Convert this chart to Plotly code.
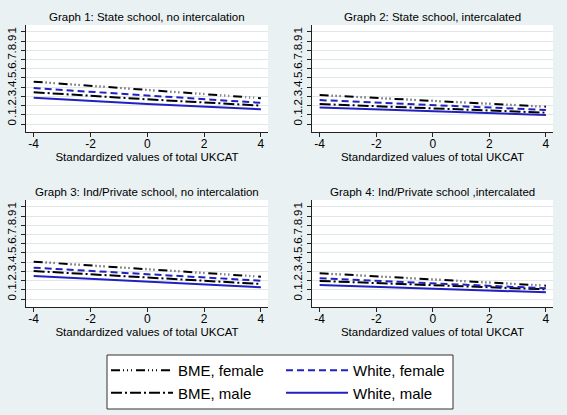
import plotly.graph_objects as go

# ---- data ----
x_vals = [-4, 0, 4]
panel_titles = [
    "Graph 1: State school, no intercalation",
    "Graph 2: State school, intercalated",
    "Graph 3: Ind/Private school, no intercalation",
    "Graph 4: Ind/Private school ,intercalated",
]
series_names = ["BME, female", "BME, male", "White, female", "White, male"]
bme_female = [[0.46, 0.37, 0.28], [0.315, 0.25, 0.188], [0.405, 0.326, 0.242], [0.28, 0.214, 0.145]]
white_female = [[0.39, 0.307, 0.23], [0.26, 0.204, 0.152], [0.34, 0.272, 0.199], [0.225, 0.171, 0.116]]
bme_male = [[0.345, 0.268, 0.20], [0.217, 0.17, 0.123], [0.304, 0.236, 0.163], [0.196, 0.152, 0.105]]
white_male = [[0.286, 0.217, 0.16], [0.18, 0.141, 0.098], [0.25, 0.188, 0.127], [0.152, 0.116, 0.073]]
x_ticks = [-4, -2, 0, 2, 4]
x_ticktext = ["-4", "-2", "0", "2", "4"]
y_ticks = [0, 0.1, 0.2, 0.3, 0.4, 0.5, 0.6, 0.7, 0.8, 0.9, 1.0]
y_ticktext = ["0", ".1", ".2", ".3", ".4", ".5", ".6", ".7", ".8", ".9", "1"]
x_title = "Standardized values of total UKCAT"

# ---- layout geometry (pixels) ----
W, H = 567, 415
col_px = [(26, 268), (312, 553)]
row_px = [(25, 132), (200, 307)]
BG = "#eaf1f2"
BLUE = "#2121c2"
FONT = "Liberation Sans, Arial, sans-serif"

fig = go.Figure()
styles = {
    "BME, female": dict(color="black", width=2, dash="9px,3px,1px,3px,1px,3px,1px,4px"),
    "White, female": dict(color=BLUE, width=2, dash="7px,4px"),
    "BME, male": dict(color="black", width=2, dash="11px,3px,2px,3px"),
    "White, male": dict(color=BLUE, width=2),
}
legend_of = {"BME, female": "legend", "BME, male": "legend",
             "White, female": "legend2", "White, male": "legend2"}
data_by_name = {
    "BME, female": bme_female,
    "White, female": white_female,
    "BME, male": bme_male,
    "White, male": white_male,
}

for p in range(4):
    r, c = divmod(p, 2)
    ax = "" if p == 0 else str(p + 1)
    xa, ya = "x" + ax, "y" + ax
    for name in series_names:
        fig.add_trace(go.Scatter(
            x=x_vals, y=data_by_name[name][p], mode="lines", name=name,
            line=styles[name], xaxis=xa, yaxis=ya, legend=legend_of[name],
            showlegend=(p == 0), legendgroup=name, hoverinfo="skip"))
        if name == "BME, female":
            fig.add_trace(go.Scatter(
                x=x_vals, y=data_by_name[name][p], mode="lines",
                line=dict(color="#a0a0a0", width=2.5, dash="0px,12px,1px,3px,1px,3px,1px,4px"),
                xaxis=xa, yaxis=ya, showlegend=False, legendgroup=name, hoverinfo="skip"))
    x0, x1 = col_px[c]
    y0, y1 = row_px[r]
    xd = [x0 / W, x1 / W]
    yd = [1 - y1 / H, 1 - y0 / H]
    fig.layout["xaxis" + ax] = dict(
        domain=xd, anchor=ya, range=[-4.27, 4.25], tickvals=x_ticks, ticktext=x_ticktext,
        showline=True, linecolor="#222", linewidth=1, ticks="outside", ticklen=4,
        tickcolor="#222", showgrid=False, zeroline=False, ticklabelstandoff=-3,
        tickfont=dict(size=12, color="black", family=FONT),
        title=dict(text=x_title, font=dict(size=11.5, color="black", family=FONT), standoff=1))
    fig.layout["yaxis" + ax] = dict(
        domain=yd, anchor=xa, range=[-0.087, 1.076], tickvals=y_ticks, ticktext=y_ticktext,
        tickangle=-90, showline=True, linecolor="#222", linewidth=1, ticks="outside",
        ticklen=4, tickcolor="#222", showgrid=True, gridcolor="#e1e6e8", gridwidth=1,
        zeroline=False, tickfont=dict(size=11.5, color="black", family=FONT))
    fig.add_annotation(
        text=panel_titles[p], xref="x" + ax + " domain", yref="paper",
        x=0.5, y=1 - (y0 - 8) / H, xanchor="center", yanchor="middle",
        showarrow=False, font=dict(size=11.5, color="black", family=FONT))

# legend frame
fig.add_shape(type="rect", xref="paper", yref="paper",
              x0=107 / W, x1=453 / W, y0=1 - 409 / H, y1=1 - 355 / H,
              fillcolor="white", line=dict(color="#333", width=1), layer="above")

leg_common = dict(orientation="v", yanchor="top", xanchor="left",
                  bgcolor="rgba(0,0,0,0)", borderwidth=0,
                  font=dict(size=15, color="black", family=FONT),
                  itemwidth=62, traceorder="normal", tracegroupgap=0)
fig.update_layout(
    width=W, height=H, margin=dict(l=0, r=0, t=0, b=0),
    paper_bgcolor=BG, plot_bgcolor="white",
    font=dict(family=FONT, color="black"),
    legend=dict(x=106 / W, y=1 - 354 / H, **leg_common),
    legend2=dict(x=281 / W, y=1 - 354 / H, **leg_common),
)

fig.write_html("out.html", config={"displayModeBar": False, "staticPlot": True},
               post_script="document.body.style.margin='0';document.body.style.overflow='hidden';")
